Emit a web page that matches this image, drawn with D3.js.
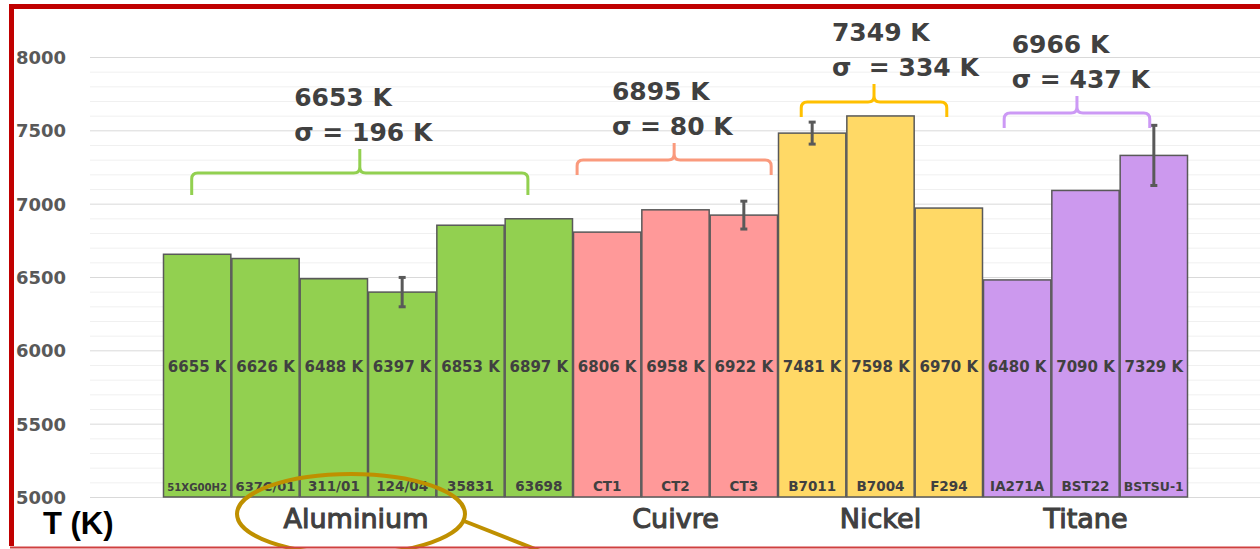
<!DOCTYPE html>
<html><head><meta charset="utf-8">
<script src="https://cdn.jsdelivr.net/npm/d3@7"></script>
<style>body{margin:0;background:#fff}svg{display:block}</style>
</head><body><svg id="chart" width="1260" height="549"></svg>
<script>
// ---- data ----
const categories = ["51XG00H2","637C/01","311/01","124/04","35831","63698","CT1","CT2","CT3","B7011","B7004","F294","IA271A","BST22","BSTSU-1"];
const temperatures = [6655,6626,6488,6397,6853,6897,6806,6958,6922,7481,7598,6970,6480,7090,7329];
const errors = [0,0,0,100,0,0,0,0,95,75,0,0,0,0,205];
const groups = ["Aluminium","Cuivre","Nickel","Titane"];
const groupSizes = [6,3,3,3];
const groupMeans = ["6653 K","6895 K","7349 K","6966 K"];
const groupSigmas = ["σ = 196 K","σ = 80 K","σ  = 334 K","σ = 437 K"];
const yTicks = [5000,5500,6000,6500,7000,7500,8000];
const yAxisTitle = "T (K)";

// ---- layout / style ----
const W = 1260, H = 549;
const barColors = ["#92d050","#ff9999","#ffd966","#cc99ee"];
const braceColors = ["#92d050","#fa9a7d","#ffc000","#cc99f5"];
const braceLevels = [7209,7298,7693,7618];        // K, horizontal part of each brace
const braceSpan = [[0.42,5.34],[6.06,8.9],[9.34,11.47],[12.31,14.44]]; // bar-index units
const braceDrop = [22,15,15,15], braceRise = [24,17,18,17];
const textStart = [1.92,6.57,9.79,12.42];
const textColor = "#404040";

const svg = d3.select("#chart");
const x = d3.scaleBand().domain(categories).range([163,1188]).padding(0);
const xi = d3.scaleLinear().domain([0,categories.length]).range([163,1188]);
const y = d3.scaleLinear().domain([5000,8000]).range([497,57]);

const groupIdx = [];
groupSizes.forEach((n,g)=>{for(let i=0;i<n;i++) groupIdx.push(g);});
const groupStart = groupSizes.map((n,g)=>d3.sum(groupSizes.slice(0,g)));

// grid
const minor = d3.range(5000,8001,100).filter(v=>v%500!==0);
svg.append("g").selectAll("line").data(minor).join("line")
  .attr("x1",90).attr("x2",W).attr("y1",d=>y(d)+0.5).attr("y2",d=>y(d)+0.5)
  .attr("stroke","#f0f0f0").attr("stroke-width",1);
svg.append("g").selectAll("line").data(yTicks).join("line")
  .attr("x1",90).attr("x2",W).attr("y1",d=>y(d)+0.5).attr("y2",d=>y(d)+0.5)
  .attr("stroke","#d9d9d9").attr("stroke-width",1);

// y tick labels
svg.append("g").selectAll("text").data(yTicks).join("text")
  .attr("x",66).attr("y",d=>y(d)+7).attr("text-anchor","end")
  .attr("font-family","DejaVu Sans").attr("font-weight","bold").attr("font-size",18)
  .attr("fill","#595959").text(d=>d);

// bars
svg.append("g").selectAll("rect").data(temperatures).join("rect")
  .attr("x",(d,i)=>x(categories[i])+0.5).attr("width",x.bandwidth()-1)
  .attr("y",d=>y(d)).attr("height",d=>y(5000)-y(d))
  .attr("fill",(d,i)=>barColors[groupIdx[i]])
  .attr("stroke","#595959").attr("stroke-width",1.5);

// value labels
svg.append("g").selectAll("text").data(temperatures).join("text")
  .attr("x",(d,i)=>x(categories[i])+x.bandwidth()/2).attr("y",372)
  .attr("text-anchor","middle").attr("font-family","DejaVu Sans").attr("font-weight","bold")
  .attr("font-size",15).attr("fill",textColor).text(d=>d+" K");

// category labels
const catLab = svg.append("g").selectAll("text").data(categories).join("text")
  .attr("x",d=>x(d)+x.bandwidth()/2).attr("y",491)
  .attr("text-anchor","middle").attr("font-family","DejaVu Sans").attr("font-weight","bold")
  .attr("font-size",13.5).attr("fill",textColor).text(d=>d);
catLab.each(function(){
  const w=this.getComputedTextLength();
  if(w>60) d3.select(this).attr("font-size",13.5*60/w);
});

// error bars
const eb = svg.append("g").attr("stroke","#595959").attr("stroke-width",3);
temperatures.forEach((v,i)=>{
  if(!errors[i]) return;
  const cx = x(categories[i])+x.bandwidth()/2;
  eb.append("line").attr("x1",cx).attr("x2",cx).attr("y1",y(v+errors[i])).attr("y2",y(v-errors[i]));
  [v+errors[i],v-errors[i]].forEach(e=>eb.append("line").attr("x1",cx-3.5).attr("x2",cx+3.5).attr("y1",y(e)).attr("y2",y(e)));
});

// group labels
svg.append("g").selectAll("text").data(groups).join("text")
  .attr("x",(d,g)=>xi(groupStart[g]+groupSizes[g]/2)-(g===0?12:0)).attr("y",528)
  .attr("text-anchor","middle").attr("font-family","DejaVu Sans")
  .attr("font-size",27).attr("fill",textColor).attr("stroke",textColor).attr("stroke-width",1.1)
  .text(d=>d);

// braces + annotations
groups.forEach((gname,g)=>{
  const x0=xi(braceSpan[g][0]), x1=xi(braceSpan[g][1]), xm=(x0+x1)/2;
  const yh=y(braceLevels[g]), yb=yh+braceDrop[g], yt=yh-braceRise[g], r=6;
  const p = `M${x0},${yb} L${x0},${yh+r} Q${x0},${yh} ${x0+r},${yh} L${xm-r},${yh} Q${xm},${yh} ${xm},${yh-r} L${xm},${yt} M${xm},${yh-r} Q${xm},${yh} ${xm+r},${yh} L${x1-r},${yh} Q${x1},${yh} ${x1},${yh+r} L${x1},${yb}`;
  svg.append("path").attr("d",p).attr("fill","none").attr("stroke",braceColors[g]).attr("stroke-width",3);
  const tx = xi(textStart[g]);
  const b2 = yt-8, b1 = b2-35;
  [[groupMeans[g],b1],[groupSigmas[g],b2]].forEach(([t,by])=>{
    svg.append("text").attr("x",tx).attr("y",by).attr("font-family","DejaVu Sans").attr("font-weight","bold")
      .attr("font-size",25).attr("fill",textColor).style("white-space","pre").text(t);
  });
});

// axis title
svg.append("text").attr("x",43).attr("y",534).attr("font-family","Liberation Sans").attr("font-weight","bold")
  .attr("font-size",31).attr("fill","#000").text(yAxisTitle);

// highlight ellipse + pointer
svg.append("ellipse").attr("cx",351).attr("cy",514).attr("rx",114).attr("ry",40)
  .attr("fill","none").attr("stroke","#bf9000").attr("stroke-width",4);
svg.append("line").attr("x1",464).attr("y1",521).attr("x2",540).attr("y2",551)
  .attr("stroke","#bf9000").attr("stroke-width",4);

// frame
svg.append("path").attr("d",`M${W+5},6.5 L11.5,6.5 L11.5,546`).attr("fill","none").attr("stroke","#c00000").attr("stroke-width",5);
svg.append("line").attr("x1",10).attr("x2",W).attr("y1",547.5).attr("y2",547.5).attr("stroke","#d04040").attr("stroke-width",2);
</script></body></html>
